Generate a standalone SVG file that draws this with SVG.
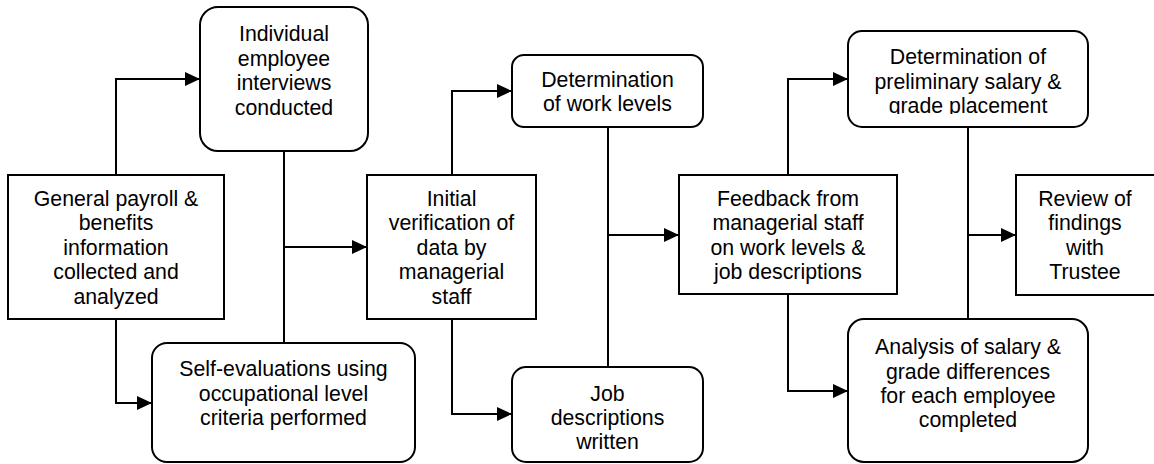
<svg xmlns="http://www.w3.org/2000/svg" width="1154" height="464" viewBox="0 0 1154 464">
<style>
.box{fill:#fff;stroke:#000;stroke-width:2}
.t{font-family:"Liberation Sans",Arial,sans-serif;font-size:21.3px;fill:#000;text-anchor:middle}
.c{fill:none;stroke:#000;stroke-width:2}
</style>
<defs>
<marker id="ah" markerUnits="userSpaceOnUse" markerWidth="16" markerHeight="15" refX="15" refY="7" orient="auto">
<path d="M0,0 L15,7 L0,14 z" fill="#000"/>
</marker>
<clipPath id="clip8"><rect x="848" y="31" width="240" height="83"/></clipPath>
</defs>
<rect width="1154" height="464" fill="#fff"/>
<g id="connectors">
<path class="c" d="M116,175 V79 H200" marker-end="url(#ah)"/>
<path class="c" d="M116,319 V403 H152" marker-end="url(#ah)"/>
<path class="c" d="M284,151 V343"/>
<path class="c" d="M284,247 H367" marker-end="url(#ah)"/>
<path class="c" d="M452,175 V91 H512" marker-end="url(#ah)"/>
<path class="c" d="M452,319 V414 H512" marker-end="url(#ah)"/>
<path class="c" d="M608,127 V367"/>
<path class="c" d="M608,235 H679" marker-end="url(#ah)"/>
<path class="c" d="M788,175 V79 H848" marker-end="url(#ah)"/>
<path class="c" d="M788,294 V391 H848" marker-end="url(#ah)"/>
<path class="c" d="M968,127 V319"/>
<path class="c" d="M968,235 H1016" marker-end="url(#ah)"/>
</g>
<g id="n1">
<rect class="box" x="8" y="175" width="216" height="144"/>
<text class="t" x="116" y="205.5">General payroll &amp;</text>
<text class="t" x="116" y="230">benefits</text>
<text class="t" x="116" y="254.5">information</text>
<text class="t" x="116" y="279">collected and</text>
<text class="t" x="116" y="303.5">analyzed</text>
</g>
<g id="n2">
<rect class="box" x="200" y="7" width="168" height="144" rx="18"/>
<text class="t" x="284" y="41">Individual</text>
<text class="t" x="284" y="65.5">employee</text>
<text class="t" x="284" y="90">interviews</text>
<text class="t" x="284" y="114.5">conducted</text>
</g>
<g id="n3">
<rect class="box" x="152" y="343" width="263" height="119" rx="15"/>
<text class="t" x="283.5" y="376">Self-evaluations using</text>
<text class="t" x="283.5" y="400.5">occupational level</text>
<text class="t" x="283.5" y="425">criteria performed</text>
</g>
<g id="n4">
<rect class="box" x="367" y="175" width="169" height="144"/>
<text class="t" x="451.5" y="205.5">Initial</text>
<text class="t" x="451.5" y="230">verification of</text>
<text class="t" x="451.5" y="254.5">data by</text>
<text class="t" x="451.5" y="279">managerial</text>
<text class="t" x="451.5" y="303.5">staff</text>
</g>
<g id="n5">
<rect class="box" x="512" y="55" width="191" height="72" rx="12"/>
<text class="t" x="607.5" y="87">Determination</text>
<text class="t" x="607.5" y="111">of work levels</text>
</g>
<g id="n6">
<rect class="box" x="512" y="367" width="191" height="95" rx="14"/>
<text class="t" x="607.5" y="400.5">Job</text>
<text class="t" x="607.5" y="425">descriptions</text>
<text class="t" x="607.5" y="449">written</text>
</g>
<g id="n7">
<rect class="box" x="679" y="175" width="218" height="119"/>
<text class="t" x="788" y="205.5">Feedback from</text>
<text class="t" x="788" y="230">managerial staff</text>
<text class="t" x="788" y="254.5">on work levels &amp;</text>
<text class="t" x="788" y="279">job descriptions</text>
</g>
<g id="n8">
<rect class="box" x="848" y="31" width="240" height="96" rx="14"/>
<g clip-path="url(#clip8)">
<text class="t" x="968" y="64">Determination of</text>
<text class="t" x="968" y="88.5">preliminary salary &amp;</text>
<text class="t" x="968" y="113">grade placement</text>
</g>
</g>
<g id="n9">
<rect class="box" x="1016" y="175" width="140" height="120"/>
<text class="t" x="1085" y="205.5">Review of</text>
<text class="t" x="1085" y="230">findings</text>
<text class="t" x="1085" y="254.5">with</text>
<text class="t" x="1085" y="279">Trustee</text>
</g>
<g id="n10">
<rect class="box" x="848" y="319" width="240" height="143" rx="16"/>
<text class="t" x="968" y="354">Analysis of salary &amp;</text>
<text class="t" x="968" y="378.5">grade differences</text>
<text class="t" x="968" y="403">for each employee</text>
<text class="t" x="968" y="427">completed</text>
</g>
</svg>
